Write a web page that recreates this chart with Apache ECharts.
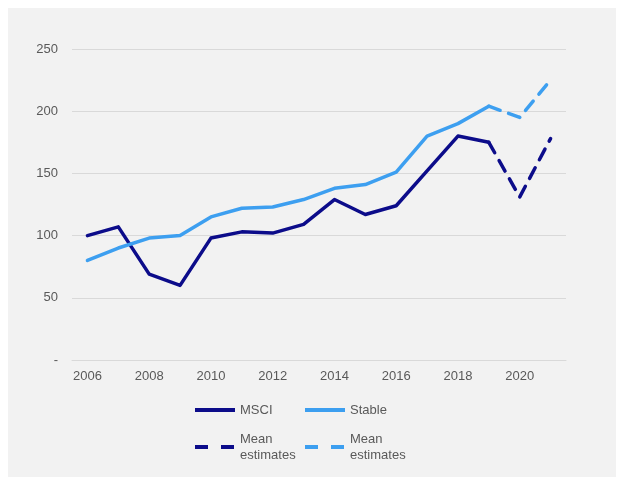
<!DOCTYPE html>
<html>
<head>
<meta charset="utf-8">
<script src="https://cdn.jsdelivr.net/npm/echarts@6/dist/echarts.min.js"></script>
<style>
  html, body { margin: 0; padding: 0; background: #fff; }
  #chart { width: 618px; height: 479px; }
</style>
</head>
<body>
<div id="chart"></div>
<script>
// data
var years = ['2006', '2007', '2008', '2009', '2010', '2011', '2012', '2013',
    '2014', '2015', '2016', '2017', '2018', '2019', '2020', '2021']
var msci = [100, 107, 69, 60, 98, 103, 102, 109, 129, 117, 124, 152, 180, 175, null, null]
var stable = [80, 90, 98, 100, 115, 122, 123, 129, 138, 141, 151, 180, 190, 204, null, null]
var msciEst = [null, null, null, null, null, null, null, null, null, null, null, null, null, 175, 131, 178]
var stableEst = [null, null, null, null, null, null, null, null, null, null, null, null, null, 204, 195, 225]
var yTicks = [0, 50, 100, 150, 200, 250]

var navy = '#0c0c8a'
var sky = '#3d9ff0'
var textColor = '#595959'
var font = 'Liberation Sans, Arial, sans-serif'

var chart = echarts.init(document.getElementById('chart'))

function legendAt(name, left, top, dashed) {
    return {
        data: [name],
        left: left,
        top: top,
        itemWidth: 40,
        itemHeight: 14,
        itemGap: 0,
        padding: 0,
        selectedMode: false,
        itemStyle: { opacity: 0, borderWidth: 0 },
        lineStyle: { width: 4, cap: 'butt', type: dashed ? [13, 13] : 'solid' },
        formatter: function(n) {
            return (n === 'MSCI' || n === 'Stable') ? n : 'Mean\nestimates'
        },
        textStyle: { color: textColor, fontSize: 13, fontFamily: font, lineHeight: 16 }
    }
}

function lineSeries(name, data, color, dashed) {
    return {
        name: name,
        type: 'line',
        data: data,
        showSymbol: false,
        symbol: 'none',
        connectNulls: false,
        color: color,
        lineStyle: {
            color: color,
            width: 3.5,
            cap: 'round',
            join: 'round',
            type: dashed ? [12, 9] : 'solid'
        }
    }
}

chart.setOption({
    backgroundColor: '#fff',
    animation: false,
    graphic: [{
        type: 'rect',
        z: -10,
        silent: true,
        shape: { x: 8, y: 8, width: 608, height: 469 },
        style: { fill: '#f2f2f2' }
    }],
    grid: { left: 72, right: 52, top: 49, bottom: 119 },
    legend: [
        legendAt('MSCI', 193, 402, false),
        legendAt('Stable', 303, 402, false),
        legendAt('MSCI est', 193, 431, true),
        legendAt('Stable est', 303, 431, true)
    ],
    xAxis: {
        type: 'category',
        data: years,
        boundaryGap: true,
        axisLine: { show: true, lineStyle: { color: '#d9d9d9', width: 1 } },
        axisTick: { show: false },
        axisLabel: { interval: 1, color: textColor, fontSize: 13, fontFamily: font, margin: 10 }
    },
    yAxis: {
        type: 'value',
        min: 0,
        max: 250,
        interval: 50,
        axisLine: { show: false },
        axisTick: { show: false },
        splitLine: { lineStyle: { color: '#d9d9d9', width: 1 } },
        axisLabel: {
            color: textColor, fontSize: 13, fontFamily: font, margin: 14,
            formatter: function(v) {
                return yTicks.indexOf(v) === 0 ? '-' : String(v)
            }
        }
    },
    series: [
        lineSeries('MSCI', msci, navy, false),
        lineSeries('Stable', stable, sky, false),
        lineSeries('MSCI est', msciEst, navy, true),
        lineSeries('Stable est', stableEst, sky, true)
    ]
})
</script>
</body>
</html>
